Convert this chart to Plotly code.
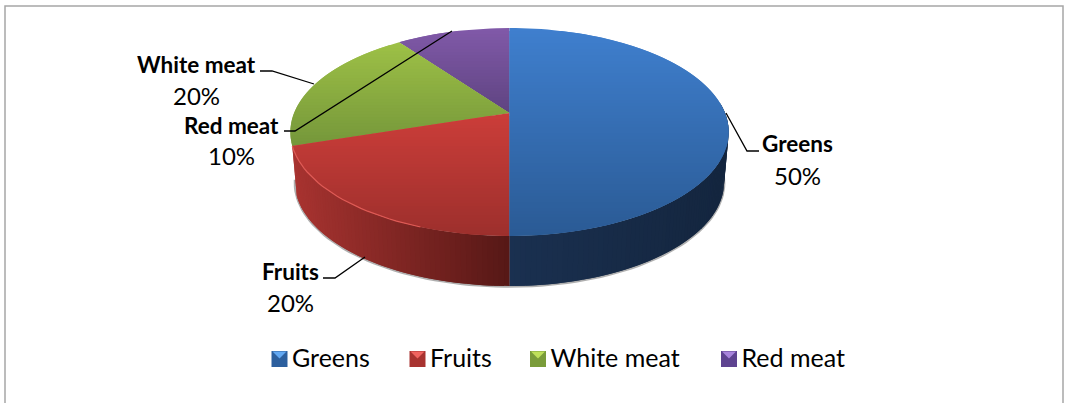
import math
import plotly.graph_objects as go

# ---- data ----
categories = ["Greens", "Fruits", "White meat", "Red meat"]
values = [50, 20, 20, 10]
percent_labels = ["50%", "20%", "20%", "10%"]

# ---- styling ----
face_top = ["#3F7FCE", "#CB3D39", "#9DC046", "#8059A8"]
face_bot = ["#2A5A94", "#9C2F2C", "#74963A", "#5E4380"]
wall_left = ["#1A3050", "#A83330", "#74963A", "#5E4380"]
wall_right = ["#14263F", "#561816", "#74963A", "#5E4380"]
legend_base = ["#2C5F9E", "#A83330", "#7A9C3A", "#5E4390"]
legend_tip = ["#62A8F2", "#F06460", "#BFE05A", "#A884DC"]
label_pos = [(797, 143, 797, 175), (290, 271, 290, 302), (196, 64, 196, 95), (231, 125, 231, 155)]
leaders = [
    [(726, 113), (747, 151), (759, 151)],
    [(323, 278), (335, 278), (365, 257)],
    [(260, 71), (272, 71), (314, 84)],
    [(284, 131), (295, 131), (452, 31)],
]
legend_x = [279.5, 417.5, 538, 729]
legend_y = 359
FONT = "Lato, Carlito, Calibri, sans-serif"

# pie geometry: perspective ellipse
CX, APEX_Y, R, A, K, DEPTH, R_BOTTOM = 509.5, 113.0, 215.5, 100.5, -0.1827, 50.0, 211.0


def project(theta_deg, bottom=False):
    t = math.radians(theta_deg)
    u, v = math.sin(t), -math.cos(t)
    w = 1 + K * v
    r = R_BOTTOM if bottom else R
    return CX + r * u / w, APEX_Y + (DEPTH if bottom else 0) + A * v / w


def mix(c1, c2, f):
    f = max(0.0, min(1.0, f))
    a = [int(c1[i:i + 2], 16) for i in (1, 3, 5)]
    b = [int(c2[i:i + 2], 16) for i in (1, 3, 5)]
    return "rgb(%d,%d,%d)" % tuple(round(p + (q - p) * f) for p, q in zip(a, b))


def clip(poly, y0, y1):
    def half(points, keep, cross):
        out = []
        for i, p in enumerate(points):
            q = points[(i + 1) % len(points)]
            if keep(p):
                out.append(p)
            if keep(p) != keep(q):
                s = (cross - p[1]) / (q[1] - p[1])
                out.append((p[0] + s * (q[0] - p[0]), cross))
        return out
    res = half(poly, lambda p: p[1] >= y0, y0)
    return half(res, lambda p: p[1] <= y1, y1) if res else res


def patch(fig, pts, color):
    fig.add_trace(go.Scatter(
        x=[p[0] for p in pts] + [pts[0][0]], y=[p[1] for p in pts] + [pts[0][1]],
        mode="lines", fill="toself", fillcolor=color, line=dict(color=color, width=0),
        hoverinfo="skip", showlegend=False))


fig = go.Figure()

# slice angle ranges from the values
total = sum(values)
angles = []
acc = 0.0
for val in values:
    angles.append((acc / total * 360, (acc + val) / total * 360))
    acc += val

# soft shadow under the wall
sh = [project(a, True) for a in range(75, 262, 2)]
fig.add_trace(go.Scatter(x=[p[0] for p in sh], y=[p[1] + 0.6 for p in sh], mode="lines",
                         line=dict(color="rgba(110,110,110,0.55)", width=2.5),
                         hoverinfo="skip", showlegend=False))

# front wall: each strip runs on under the next one, so no seams show
WALL_START, WALL_END = 84.0, 262.0
for i, (a0, a1) in enumerate(angles[:3]):
    lo, hi = max(a0, WALL_START), min(a1, WALL_END)
    if hi <= lo or i == 2:
        continue
    n = int((hi - lo) / 1.2) + 1
    xs = [project(lo + (hi - lo) * j / n)[0] for j in (0, n)]
    xmin, xmax = min(xs), max(xs)
    for j in range(n):
        s0 = lo + (hi - lo) * j / n
        s1 = min(hi, lo + (hi - lo) * (j + 2) / n)
        qs = [s0 + (s1 - s0) * m / 4 for m in range(5)]
        q = [project(a) for a in qs] + [project(a, True) for a in reversed(qs)]
        xc = project(lo + (hi - lo) * (j + 0.5) / n)[0]
        patch(fig, q, mix(wall_left[i], wall_right[i], (xc - xmin) / (xmax - xmin)))

# top faces with a vertical gradient; each band runs on under the next one
BAND = 3.0
for i, (a0, a1) in reversed(list(enumerate(angles))):
    n = max(2, int((a1 - a0) / 2))
    poly = [(CX, APEX_Y)] + [project(a0 + (a1 - a0) * j / n) for j in range(n + 1)]
    ymin, ymax = min(p[1] for p in poly), max(p[1] for p in poly)
    y = ymin
    while y < ymax:
        part = clip(poly, y, y + BAND * 2)
        if len(part) >= 3:
            patch(fig, part, mix(face_top[i], face_bot[i], (y - ymin) / (ymax - ymin)))
        y += BAND

# bright rim of the red slice
rim = [project(a) for a in range(200, 253, 2)]
fig.add_trace(go.Scatter(x=[p[0] for p in rim], y=[p[1] for p in rim], mode="lines",
                         line=dict(color="#DE5A55", width=1.2), hoverinfo="skip", showlegend=False))

# leader lines
lx, ly = [], []
for seg in leaders:
    lx += [p[0] for p in seg] + [None]
    ly += [p[1] for p in seg] + [None]
fig.add_trace(go.Scatter(x=lx, y=ly, mode="lines", line=dict(color="#000000", width=1.3),
                         hoverinfo="skip", showlegend=False))

# legend
for i, name in enumerate(categories):
    fig.add_trace(go.Scatter(x=[legend_x[i]], y=[legend_y], mode="markers",
                             marker=dict(symbol="square", size=16, color=legend_base[i]),
                             name=name, hoverinfo="skip", showlegend=False))
    mx = legend_x[i]
    patch(fig, [(mx - 7, legend_y - 7.5), (mx + 7, legend_y - 7.5), (mx, legend_y - 0.5)], legend_tip[i])
    fig.add_trace(go.Scatter(x=[mx + 12.5], y=[legend_y + 1.5], mode="text", text=[name],
                             textposition="middle right",
                             textfont=dict(family=FONT, size=25, color="#000000"),
                             hoverinfo="skip", showlegend=False))

# data labels
ann = []
for i, name in enumerate(categories):
    nx, ny, px, py = label_pos[i]
    ann.append(dict(x=nx, y=ny, text="<b>%s</b>" % name, showarrow=False, xref="x", yref="y",
                    font=dict(family=FONT, size=22.5, color="#000000")))
    ann.append(dict(x=px, y=py, text=percent_labels[i], showarrow=False, xref="x", yref="y",
                    font=dict(family=FONT, size=24, color="#000000")))

# chart frame (open at the bottom)
frame = dict(type="path", path="M 5 403 L 5 6 L 1063 6 L 1063 403", xref="x", yref="y",
             line=dict(color="#A6A6A6", width=1.5))

fig.update_layout(
    width=1065, height=403, margin=dict(l=0, r=0, t=0, b=0), showlegend=False,
    paper_bgcolor="#FFFFFF", plot_bgcolor="#FFFFFF", annotations=ann, shapes=[frame],
    xaxis=dict(range=[0, 1065], visible=False, fixedrange=True),
    yaxis=dict(range=[403, 0], visible=False, fixedrange=True),
)
fig.write_html("out.html", config={"displayModeBar": False},
               post_script="document.body.style.margin='0';document.body.style.overflow='hidden';")
